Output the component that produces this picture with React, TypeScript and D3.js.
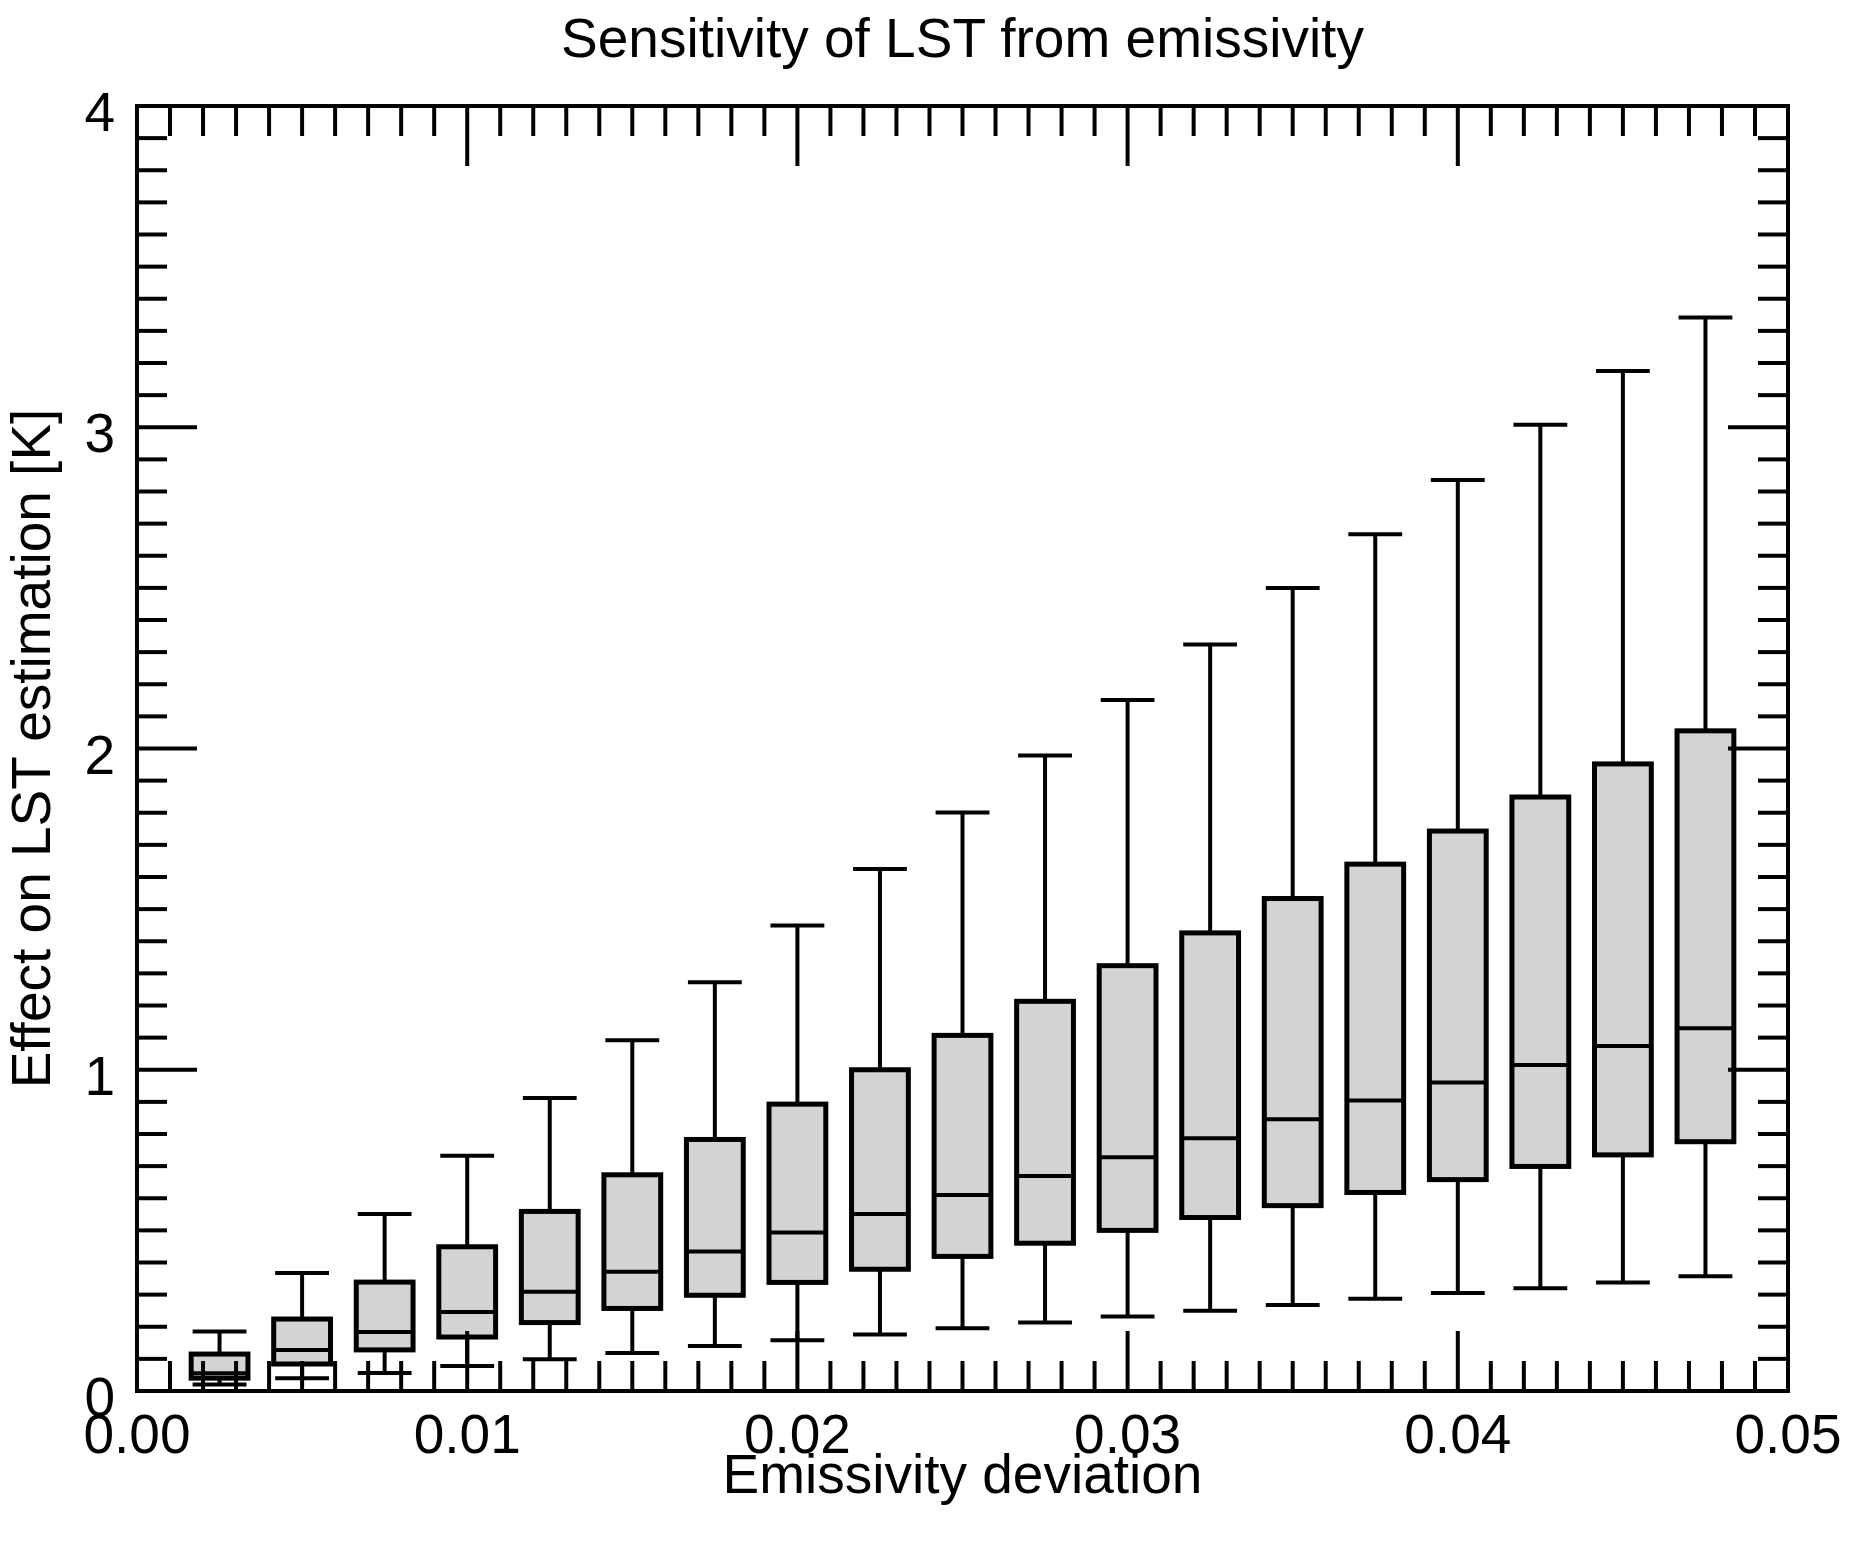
import { useEffect, useRef } from "react";
import * as d3 from "d3";

// emissivity deviation at each box
const positions = [
  0.0025, 0.005, 0.0075, 0.01, 0.0125, 0.015, 0.0175, 0.02, 0.0225, 0.025,
  0.0275, 0.03, 0.0325, 0.035, 0.0375, 0.04, 0.0425, 0.045, 0.0475,
];
const lowerWhisker = [
  0.02, 0.04, 0.056, 0.078, 0.099, 0.118, 0.14, 0.158, 0.176, 0.195, 0.213,
  0.232, 0.25, 0.268, 0.287, 0.305, 0.32, 0.338, 0.357,
];
const q1 = [
  0.04, 0.084, 0.128, 0.168, 0.213, 0.257, 0.298, 0.338, 0.379, 0.419, 0.46,
  0.5, 0.54, 0.577, 0.618, 0.658, 0.699, 0.735, 0.776,
];
const medians = [
  0.055, 0.128, 0.184, 0.246, 0.309, 0.371, 0.434, 0.493, 0.551, 0.61, 0.669,
  0.728, 0.787, 0.846, 0.904, 0.96, 1.015, 1.074, 1.129,
];
const q3 = [
  0.115, 0.224, 0.339, 0.449, 0.559, 0.673, 0.783, 0.893, 1.0, 1.107, 1.213,
  1.324, 1.426, 1.533, 1.64, 1.743, 1.849, 1.952, 2.055,
];
const upperWhisker = [
  0.185, 0.367, 0.551, 0.732, 0.912, 1.092, 1.272, 1.449, 1.625, 1.801, 1.978,
  2.151, 2.324, 2.5, 2.667, 2.836, 3.008, 3.175, 3.342,
];

const xDomain = [0, 0.05];
const yDomain = [0, 4];
const title = "Sensitivity of LST from emissivity";
const xLabel = "Emissivity deviation";
const yLabel = "Effect on LST estimation [K]";

const App = () => {
  const ref = useRef<SVGSVGElement>(null);

  useEffect(() => {
    if (!ref.current) return;
    const svg = d3.select(ref.current);
    svg.selectAll("*").remove();

    const width = 1851;
    const height = 1547;
    const margin = { left: 137, right: 63, top: 106, bottom: 156 };
    const x0 = margin.left;
    const x1 = width - margin.right;
    const y0 = height - margin.bottom;
    const y1 = margin.top;
    const font = "'Liberation Sans', Arial, Helvetica, sans-serif";

    const x = d3.scaleLinear().domain(xDomain).range([x0, x1]);
    const y = d3.scaleLinear().domain(yDomain).range([y0, y1]);

    svg.append("rect").attr("width", width).attr("height", height).attr("fill", "white");

    const boxWidth = x(0.00172) - x(0);
    const capWidth = x(0.00163) - x(0);

    const data = positions.map((p, i) => ({
      p,
      lw: lowerWhisker[i],
      q1: q1[i],
      med: medians[i],
      q3: q3[i],
      uw: upperWhisker[i],
    }));

    const boxes = svg.append("g");
    const b = boxes.selectAll("g").data(data).enter().append("g");

    // whiskers
    b.append("line")
      .attr("x1", (d) => x(d.p))
      .attr("x2", (d) => x(d.p))
      .attr("y1", (d) => y(d.q3))
      .attr("y2", (d) => y(d.uw))
      .attr("stroke", "black")
      .attr("stroke-width", 4);
    b.append("line")
      .attr("x1", (d) => x(d.p))
      .attr("x2", (d) => x(d.p))
      .attr("y1", (d) => y(d.q1))
      .attr("y2", (d) => y(d.lw))
      .attr("stroke", "black")
      .attr("stroke-width", 4);
    b.append("line")
      .attr("x1", (d) => x(d.p) - capWidth / 2)
      .attr("x2", (d) => x(d.p) + capWidth / 2)
      .attr("y1", (d) => y(d.uw))
      .attr("y2", (d) => y(d.uw))
      .attr("stroke", "black")
      .attr("stroke-width", 4);
    b.append("line")
      .attr("x1", (d) => x(d.p) - capWidth / 2)
      .attr("x2", (d) => x(d.p) + capWidth / 2)
      .attr("y1", (d) => y(d.lw))
      .attr("y2", (d) => y(d.lw))
      .attr("stroke", "black")
      .attr("stroke-width", 4);

    // box
    b.append("rect")
      .attr("x", (d) => x(d.p) - boxWidth / 2)
      .attr("width", boxWidth)
      .attr("y", (d) => y(d.q3))
      .attr("height", (d) => y(d.q1) - y(d.q3))
      .attr("fill", "#d3d3d3")
      .attr("stroke", "black")
      .attr("stroke-width", 5);
    b.append("line")
      .attr("x1", (d) => x(d.p) - boxWidth / 2)
      .attr("x2", (d) => x(d.p) + boxWidth / 2)
      .attr("y1", (d) => y(d.med))
      .attr("y2", (d) => y(d.med))
      .attr("stroke", "black")
      .attr("stroke-width", 4);

    // axes box with inward ticks on all sides
    const axes = svg.append("g").attr("stroke", "black").attr("stroke-width", 4);
    const majorLen = 60;
    const minorLen = 30;
    const xMajor = x.ticks(5);
    const yMajor = y.ticks(4);
    const isMajor = (v: number, majors: number[]) =>
      majors.some((m) => Math.abs(m - v) < 1e-9);

    x.ticks(50).forEach((v) => {
      const len = isMajor(v, xMajor) ? majorLen : minorLen;
      axes.append("line").attr("x1", x(v)).attr("x2", x(v)).attr("y1", y0).attr("y2", y0 - len);
      axes.append("line").attr("x1", x(v)).attr("x2", x(v)).attr("y1", y1).attr("y2", y1 + len);
    });
    y.ticks(40).forEach((v) => {
      const len = isMajor(v, yMajor) ? majorLen : minorLen;
      axes.append("line").attr("x1", x0).attr("x2", x0 + len).attr("y1", y(v)).attr("y2", y(v));
      axes.append("line").attr("x1", x1).attr("x2", x1 - len).attr("y1", y(v)).attr("y2", y(v));
    });
    axes.append("rect")
      .attr("x", x0)
      .attr("y", y1)
      .attr("width", x1 - x0)
      .attr("height", y0 - y1)
      .attr("fill", "none")
      .attr("stroke-linejoin", "miter");

    const fmtX = d3.format(".2f");
    svg.append("g")
      .selectAll("text")
      .data(xMajor)
      .enter()
      .append("text")
      .attr("x", (d) => x(d))
      .attr("y", y0 + 62)
      .attr("text-anchor", "middle")
      .attr("font-family", font)
      .attr("font-size", 55)
      .text((d) => fmtX(d));

    svg.append("g")
      .selectAll("text")
      .data(yMajor)
      .enter()
      .append("text")
      .attr("x", x0 - 22)
      .attr("y", (d) => y(d) + 25)
      .attr("text-anchor", "end")
      .attr("font-family", font)
      .attr("font-size", 55)
      .text((d) => d3.format("d")(d));

    svg.append("text")
      .attr("x", (x0 + x1) / 2)
      .attr("y", 57)
      .attr("text-anchor", "middle")
      .attr("font-family", font)
      .attr("font-size", 55)
      .text(title);

    svg.append("text")
      .attr("x", (x0 + x1) / 2)
      .attr("y", y0 + 102)
      .attr("text-anchor", "middle")
      .attr("font-family", font)
      .attr("font-size", 55)
      .text(xLabel);

    svg.append("text")
      .attr("transform", `translate(50, ${(y0 + y1) / 2}) rotate(-90)`)
      .attr("text-anchor", "middle")
      .attr("font-family", font)
      .attr("font-size", 55)
      .text(yLabel);
  }, []);

  return (
    <svg
      ref={ref}
      width={1851}
      height={1547}
      style={{ position: "absolute", left: 0, top: 0, display: "block" }}
    ></svg>
  );
};

export default App;
